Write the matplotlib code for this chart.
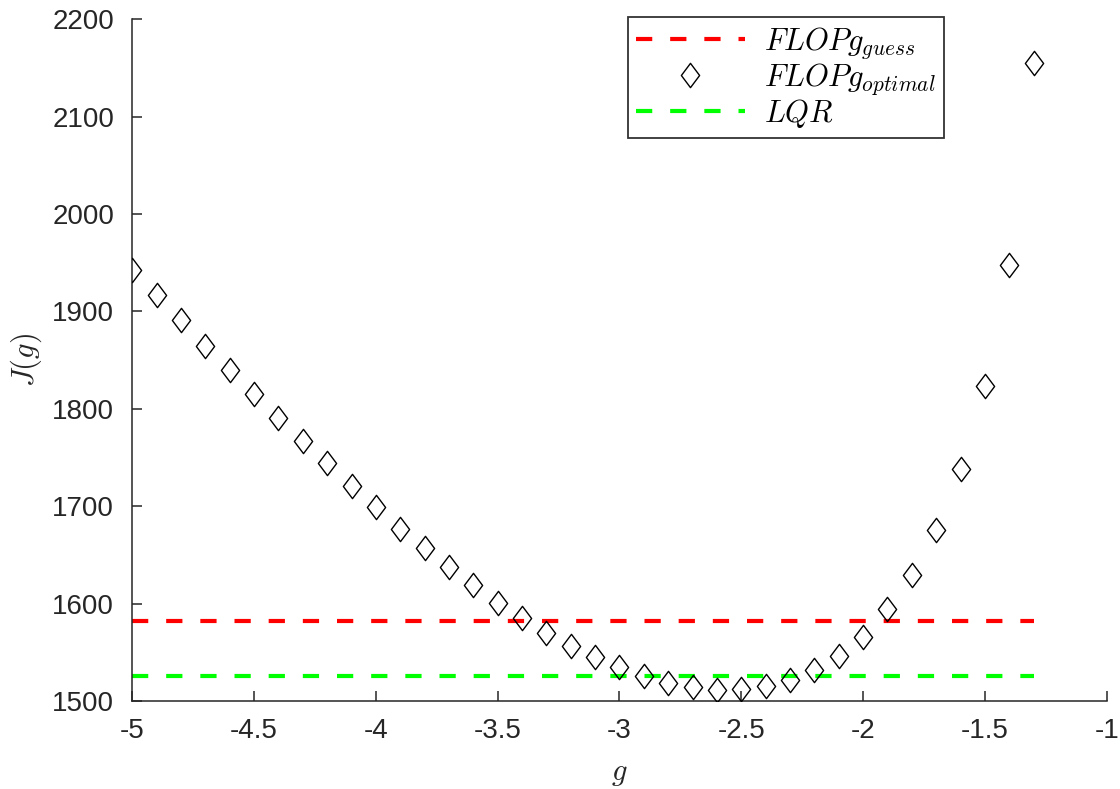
import numpy as np
import matplotlib
matplotlib.use("Agg")
import matplotlib.pyplot as plt
from matplotlib.path import Path

plt.rcParams['font.family'] = ['Liberation Sans', 'DejaVu Sans']
plt.rcParams['mathtext.fontset'] = 'cm'

# gain values and cost J(g)
g_values = [-5.0, -4.9, -4.8, -4.7, -4.6, -4.5, -4.4, -4.3, -4.2, -4.1,
            -4.0, -3.9, -3.8, -3.7, -3.6, -3.5, -3.4, -3.3, -3.2, -3.1,
            -3.0, -2.9, -2.8, -2.7, -2.6, -2.5, -2.4, -2.3, -2.2, -2.1,
            -2.0, -1.9, -1.8, -1.7, -1.6, -1.5, -1.4, -1.3]
J_optimal = [1943, 1917, 1891, 1865, 1840, 1815, 1791, 1767, 1744, 1721,
             1699, 1677, 1657, 1638, 1619, 1601, 1585, 1570, 1557, 1545,
             1535, 1526, 1519, 1514, 1511, 1512, 1515, 1522, 1532, 1546,
             1566, 1594, 1629, 1676, 1738, 1823, 1948, 2155]
J_guess = 1582
J_lqr = 1526

x_ticks = [-5, -4.5, -4, -3.5, -3, -2.5, -2, -1.5, -1]
x_ticklabels = ['-5', '-4.5', '-4', '-3.5', '-3', '-2.5', '-2', '-1.5', '-1']
y_ticks = [1500, 1600, 1700, 1800, 1900, 2000, 2100, 2200]

# MATLAB-style diamond, a bit taller than wide
diamond = Path([(0, 1), (0.75, 0), (0, -1), (-0.75, 0), (0, 1)],
               [Path.MOVETO, Path.LINETO, Path.LINETO, Path.LINETO, Path.CLOSEPOLY])

axis_color = (0.15, 0.15, 0.15)

fig = plt.figure(figsize=(11.2, 7.89), dpi=100)
ax = fig.add_axes([0.1181, 0.1115, 0.87, 0.8640])

g_span = [g_values[0], g_values[-1]]
ax.plot(g_span, [J_guess, J_guess], color='#ff0000', lw=3,
        linestyle=(0, (3.9, 4.3)), label=r'$FLOP g_{guess}$', zorder=2)
ax.plot(g_values, J_optimal, linestyle='none', marker=diamond, markersize=17.5,
        markerfacecolor='none', markeredgecolor='black', markeredgewidth=1.0,
        label=r'$FLOP g_{optimal}$', zorder=3)
ax.plot(g_span, [J_lqr, J_lqr], color='#00ff00', lw=3,
        linestyle=(0, (3.9, 4.3)), label=r'$LQR$', zorder=2)

ax.set_xlim(-5, -1)
ax.set_ylim(1500, 2200)
ax.set_xticks(x_ticks)
ax.set_xticklabels(x_ticklabels)
ax.set_yticks(y_ticks)

for side in ['top', 'right']:
    ax.spines[side].set_visible(False)
for side in ['left', 'bottom']:
    ax.spines[side].set_color(axis_color)
    ax.spines[side].set_linewidth(1.1)

ax.tick_params(direction='in', length=7, width=1.1, color=axis_color,
               labelcolor=axis_color, labelsize=20)
ax.tick_params(axis='x', pad=12)
ax.tick_params(axis='y', pad=13)

ax.set_xlabel(r'$g$', fontsize=22, color=axis_color, labelpad=10)
ax.set_ylabel(r'$J(g)$', fontsize=22, color=axis_color, labelpad=6)

leg = ax.legend(loc='upper right', bbox_to_anchor=(0.833, 1.003), borderaxespad=0,
                fontsize=22, handlelength=3.55, handletextpad=0.65, labelspacing=0.0,
                fancybox=False, framealpha=1, edgecolor=(0.2, 0.2, 0.2),
                borderpad=0.25)
leg.get_frame().set_linewidth(1.3)

fig.savefig('out.png', dpi=100)
